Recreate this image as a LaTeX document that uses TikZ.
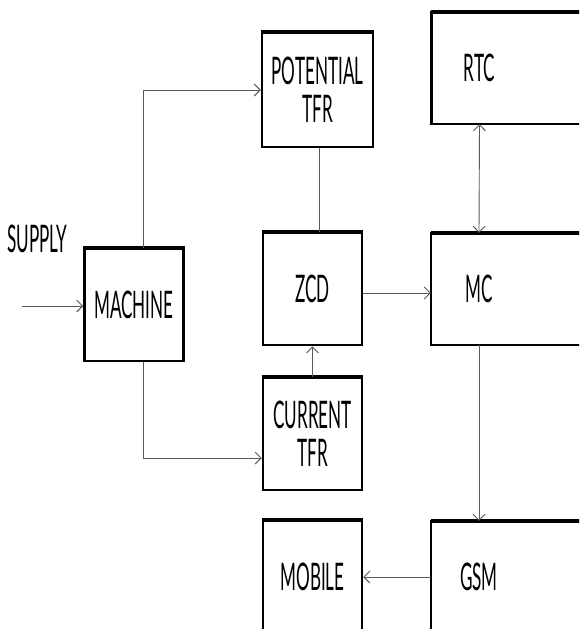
\documentclass[tikz,border=0pt]{standalone}
\usepackage{fontspec}
\newfontfamily\blockfont{Lato}[FakeStretch=0.45]
\usetikzlibrary{positioning, arrows.meta}

\begin{document}
\begin{tikzpicture}[
    x=1pt, y=1pt,
    font=\blockfont\fontsize{38}{38}\selectfont,
    box/.style={draw, line width=2.5pt, minimum width=99pt, minimum height=112pt, inner sep=0pt, align=center},
    cell/.style={minimum width=96pt, minimum height=112pt, inner sep=0pt, align=center},
    frame/.style={draw, line width=2.5pt},
    topline/.style={line width=4pt},
    arrow/.style={-{Straight Barb[length=6pt, width=12pt]}, draw=black!65, line width=0.9pt},
    link/.style={draw=black!65, line width=0.9pt}
]
\useasboundingbox (0,0) rectangle (579,-629);
\clip (0,0) rectangle (579,-629);

% left and middle blocks
\node[box] (machine) at (134,-305) {MACHINE};
\node[box, minimum width=111pt, minimum height=114pt] (pottfr) at (317.5,-90) {POTENTIAL\\TFR};
\node[box] (zcd) at (312.5,-289) {ZCD};
\node[box] (curtfr) at (312.5,-434) {CURRENT\\TFR};
\node[box] (mobile) at (312.5,-577) {MOBILE};

% right column, running past the edge
\node[cell] (rtc) at (479.5,-68) {RTC};
\node[cell] (mc) at (479,-289) {MC};
\node[cell] (gsm) at (479,-577) {GSM};
\foreach \n in {rtc, mc, gsm}
    \draw[frame] (\n.north west) rectangle ([xshift=70pt]\n.south east);

% heavier top edges
\foreach \n in {machine, pottfr, zcd, curtfr, mobile}
    \draw[topline] (\n.north west) -- (\n.north east);
\foreach \n in {rtc, mc, gsm}
    \draw[topline] (\n.north west) -- ([xshift=70pt]\n.north east);

% supply
\node (supply) at (37.5,-239) {SUPPLY};
\coordinate (feed) at (22,-306);

% connectors
\draw[arrow] (feed) -- (feed -| machine.west);
\draw[arrow] ([xshift=9pt]machine.north) |- (pottfr.west);
\draw[arrow] ([xshift=9pt]machine.south) |- ([yshift=-24pt]curtfr.west);
\draw[link] ([xshift=1.5pt]pottfr.south) -- ([xshift=1.5pt]pottfr.south |- zcd.north);
\draw[arrow] (curtfr.north) -- (zcd.south);
\draw[arrow] ([yshift=-4pt]zcd.east) -- ([yshift=-4pt]zcd.east -| mc.west);
\draw[{Straight Barb[length=6pt, width=12pt]}-{Straight Barb[length=6pt, width=12pt]}, link] (rtc.south) -- (mc.north);
\draw[arrow] (mc.south) -- (gsm.north);
\draw[arrow] (gsm.west) -- (mobile.east);
\end{tikzpicture}
\end{document}
